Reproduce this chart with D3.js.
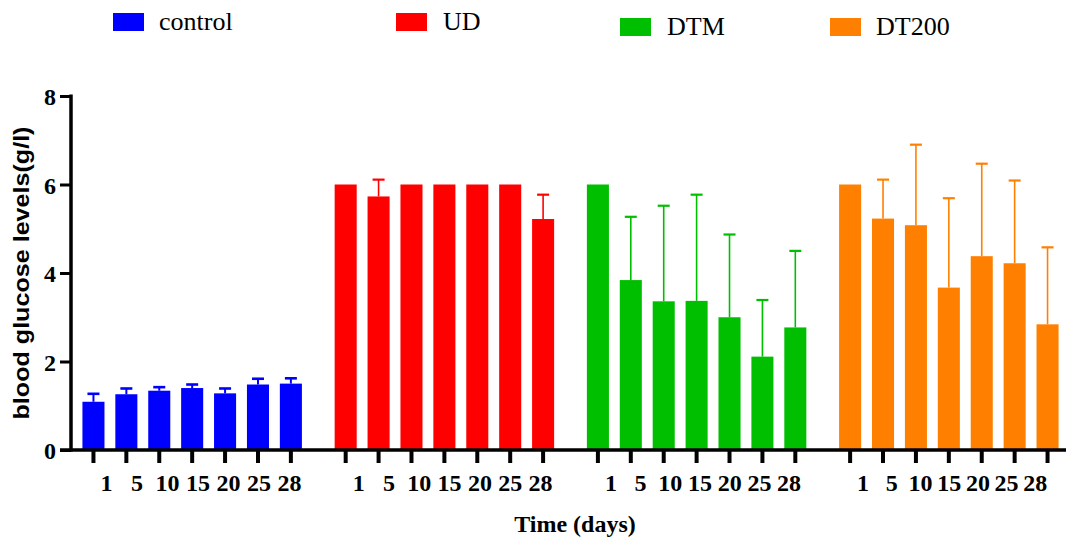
<!DOCTYPE html>
<html>
<head>
<meta charset="utf-8">
<script src="https://cdn.jsdelivr.net/npm/d3@7"></script>
<style>
  html, body { margin: 0; padding: 0; background: #fff; }
  svg { display: block; }
</style>
</head>
<body>
<svg id="chart" width="1066" height="541"></svg>
<script>
// Sampling days and treatment groups
const days = ["1", "5", "10", "15", "20", "25", "28"];
const groups = ["control", "UD", "DTM", "DT200"];
const yTicks = [0, 2, 4, 6, 8];

// Mean blood glucose (g/l) per day, and the upper error (SD) per day
const controlMean = [1.09, 1.26, 1.34, 1.40, 1.28, 1.48, 1.50];
const controlErr  = [0.18, 0.13, 0.08, 0.08, 0.11, 0.13, 0.12];
const udMean      = [6.00, 5.73, 6.00, 6.00, 6.00, 6.00, 5.22];
const udErr       = [0, 0.38, 0, 0, 0, 0, 0.55];
const dtmMean     = [6.00, 3.84, 3.36, 3.37, 3.00, 2.11, 2.77];
const dtmErr      = [0, 1.43, 2.16, 2.40, 1.87, 1.28, 1.73];
const dt200Mean   = [6.00, 5.23, 5.08, 3.67, 4.38, 4.22, 2.84];
const dt200Err    = [0, 0.88, 1.82, 2.02, 2.09, 1.87, 1.74];

const colors = ["#0000ff", "#ff0000", "#00bf00", "#ff8000"];

const series = [
  { name: groups[0], mean: controlMean, err: controlErr, color: colors[0] },
  { name: groups[1], mean: udMean,      err: udErr,      color: colors[1] },
  { name: groups[2], mean: dtmMean,     err: dtmErr,     color: colors[2] },
  { name: groups[3], mean: dt200Mean,   err: dt200Err,   color: colors[3] }
];

const svg = d3.select("#chart");
const serif = "'Liberation Serif', 'Times New Roman', serif";
const sans = "'Liberation Sans', Arial, sans-serif";

// Scales
const y = d3.scaleLinear().domain([0, 8]).range([450, 96]);
const xGroup = d3.scaleBand().domain(groups).range([77, 1064]).paddingInner(0.0868).paddingOuter(0);
const xDay = d3.scaleBand().domain(days).range([0, xGroup.bandwidth()]).paddingInner(0.33).paddingOuter(0.165);
const cx = (g, d) => xGroup(g) + xDay(d) + xDay.bandwidth() / 2;

// Bars
const bars = svg.append("g");
series.forEach(s => {
  const data = days.map((d, i) => ({ day: d, v: s.mean[i], e: s.err[i] }));
  bars.selectAll(null).data(data).enter().append("rect")
    .attr("x", d => xGroup(s.name) + xDay(d.day))
    .attr("y", d => y(d.v))
    .attr("width", xDay.bandwidth())
    .attr("height", d => y(0) - y(d.v))
    .attr("fill", s.color);

  // One-sided error bars
  const withErr = data.filter(d => d.e > 0);
  const sw = s.name === "control" ? 2 : 1.6;
  bars.selectAll(null).data(withErr).enter().append("line")
    .attr("x1", d => cx(s.name, d.day)).attr("x2", d => cx(s.name, d.day))
    .attr("y1", d => y(d.v)).attr("y2", d => y(d.v + d.e))
    .attr("stroke", s.color).attr("stroke-width", sw);
  bars.selectAll(null).data(withErr).enter().append("line")
    .attr("x1", d => cx(s.name, d.day) - 6).attr("x2", d => cx(s.name, d.day) + 6)
    .attr("y1", d => y(d.v + d.e)).attr("y2", d => y(d.v + d.e))
    .attr("stroke", s.color).attr("stroke-width", sw + 0.6);
});

// Y axis
const yAxis = svg.append("g").attr("transform", "translate(71,0)")
  .call(d3.axisLeft(y).tickValues(yTicks).tickSize(11).tickPadding(4).tickFormat(d3.format("d")));
yAxis.attr("font-family", null).attr("font-size", null);
yAxis.select(".domain").attr("stroke", "#000").attr("stroke-width", 3.5).attr("d", `M0,${y(8) - 1.5}V${y(0) + 1.5}`);
yAxis.selectAll(".tick line").attr("stroke", "#000").attr("stroke-width", 3);
yAxis.selectAll(".tick text")
  .style("font-family", serif).style("font-weight", "bold").style("font-size", "24px")
  .attr("fill", "#000").attr("dy", "0.36em");

// X axis line and ticks
svg.append("line")
  .attr("x1", 60).attr("x2", 1066).attr("y1", y(0)).attr("y2", y(0))
  .attr("stroke", "#000").attr("stroke-width", 3.5);

const labelStep = [30.5, 30.3, 29.7, 28.7];
groups.forEach((g, gi) => {
  const gx = svg.append("g");
  gx.selectAll(null).data(days).enter().append("line")
    .attr("x1", d => cx(g, d)).attr("x2", d => cx(g, d))
    .attr("y1", y(0)).attr("y2", y(0) + 13)
    .attr("stroke", "#000").attr("stroke-width", 4);
  const first = cx(g, days[0]) + 13;
  gx.selectAll(null).data(days).enter().append("text")
    .attr("x", (d, i) => first + i * labelStep[gi])
    .attr("y", 491)
    .attr("text-anchor", "middle")
    .style("font-family", serif).style("font-weight", "bold").style("font-size", "24px")
    .attr("fill", "#000")
    .text(d => d);
});

// Axis titles
svg.append("text")
  .attr("x", 575).attr("y", 532)
  .attr("text-anchor", "middle")
  .style("font-family", serif).style("font-weight", "bold").style("font-size", "24px")
  .text("Time (days)");

svg.append("text")
  .attr("transform", "translate(29,273) rotate(-90)")
  .attr("text-anchor", "middle")
  .style("font-family", sans).style("font-weight", "bold").style("font-size", "22px")
  .attr("textLength", 293).attr("lengthAdjust", "spacingAndGlyphs")
  .text("blood glucose levels(g/l)");

// Legend
const legendPos = [
  { x: 113, y: 13, tx: 159, ty: 29.5 },
  { x: 396, y: 13, tx: 443, ty: 29.5 },
  { x: 620, y: 18, tx: 667, ty: 34.5 },
  { x: 830, y: 18, tx: 876, ty: 34.5 }
];
const legend = svg.append("g");
series.forEach((s, i) => {
  const p = legendPos[i];
  legend.append("rect").attr("x", p.x).attr("y", p.y).attr("width", 31).attr("height", 18).attr("fill", s.color);
  legend.append("text").attr("x", p.tx).attr("y", p.ty)
    .style("font-family", serif).style("font-size", "26px").attr("fill", "#000")
    .text(s.name);
});
</script>
</body>
</html>
